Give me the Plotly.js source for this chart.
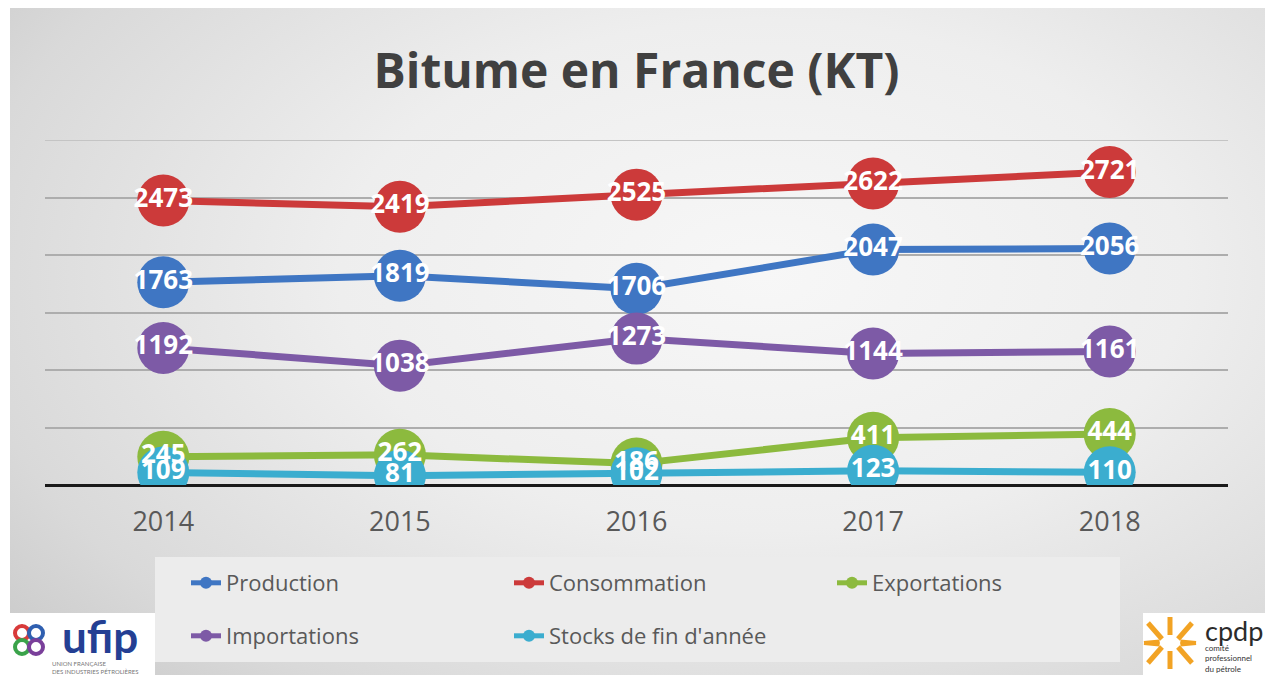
<!DOCTYPE html>
<html>
<head>
<meta charset="utf-8">
<script src="https://cdn.plot.ly/plotly-3.0.1.min.js"></script>
<style>
html,body{margin:0;padding:0;background:#ffffff;}
#bg{position:absolute;left:10px;top:8px;width:1255px;height:667px;
 background:radial-gradient(ellipse 75% 85% at 60% 40%, #f7f7f7 0%, #eeeeee 45%, #d9d9d9 85%, #cdcdcd 100%);}
#chart{position:absolute;left:0;top:0;width:1265px;height:675px;}
</style>
</head>
<body>
<div id="bg"></div>
<div id="chart"></div>
<script>
const years = ['2014','2015','2016','2017','2018'];
const production = [1763, 1819, 1706, 2047, 2056];
const consommation = [2473, 2419, 2525, 2622, 2721];
const exportations = [245, 262, 186, 411, 444];
const importations = [1192, 1038, 1273, 1144, 1161];
const stocks = [109, 81, 102, 123, 110];

const seriesNames = ['Production', 'Consommation', 'Exportations', 'Importations', "Stocks de fin d'année"];
const seriesValues = [production, consommation, exportations, importations, stocks];
const seriesColors = ['#3f76c3', '#cc3a3a', '#8cba3e', '#7d5aa6', '#3badcf'];
const seriesLegend = ['legend', 'legend', 'legend', 'legend2', 'legend2'];

// layout geometry (pixels)
const L = 45, R = 1228, T = 140, B = 485;
const px2x = p => (p - L) / (R - L);
const px2y = p => (B - p) / (B - T);
const FONT = '"Open Sans", "Noto Sans", sans-serif';

const traces = [];
seriesValues.forEach((vals, i) => {
  traces.push({
    type: 'scatter', mode: 'lines+markers', x: years, y: vals,
    name: seriesNames[i], legend: seriesLegend[i],
    line: {color: seriesColors[i], width: 7},
    marker: {color: seriesColors[i], size: 52},
    hoverinfo: 'x+y+name'
  });
});
seriesValues.forEach((vals, i) => {
  traces.push({
    type: 'scatter', mode: 'text', x: years, y: vals,
    text: vals.map(String), textposition: 'middle center',
    textfont: {family: FONT, size: 26, color: '#ffffff', weight: 'bold'},
    showlegend: false, hoverinfo: 'skip'
  });
});

const shapes = [
  // top gridline at 3000
  {type: 'line', xref: 'paper', yref: 'y', x0: 0, x1: 1, y0: 3000, y1: 3000, layer: 'below',
   line: {color: '#c4c4c4', width: 2}},
  // legend box
  {type: 'rect', xref: 'paper', yref: 'paper', layer: 'below',
   x0: px2x(155), x1: px2x(1120), y0: px2y(557), y1: px2y(662),
   fillcolor: '#ececec', line: {width: 0}},
  // ufip logo box
  {type: 'rect', xref: 'paper', yref: 'paper', layer: 'below',
   x0: px2x(0), x1: px2x(155), y0: px2y(613), y1: px2y(675),
   fillcolor: '#ffffff', line: {width: 0}},
  // cpdp logo box
  {type: 'rect', xref: 'paper', yref: 'paper', layer: 'below',
   x0: px2x(1143), x1: px2x(1265), y0: px2y(613), y1: px2y(675),
   fillcolor: '#ffffff', line: {width: 0}}
];
// ufip rings
const rings = [[22, 633, '#d83a3a'], [36, 633, '#2f5fb0'], [22, 647, '#3aa34a'], [36, 647, '#7a3f9a']];
rings.forEach(r => shapes.push({type: 'circle', xref: 'paper', yref: 'paper',
  x0: px2x(r[0] - 7), x1: px2x(r[0] + 7), y0: px2y(r[1] + 7), y1: px2y(r[1] - 7),
  line: {color: r[2], width: 4}, fillcolor: 'rgba(0,0,0,0)'}));
// cpdp star
const cx = 1170, cy = 643;
const arms = [[-22, -20, -8, -4], [0, -26, 0, -8], [22, -20, 8, -4], [-22, 20, -8, 4], [0, 26, 0, 8], [22, 20, 8, 4]];
arms.forEach(a => shapes.push({type: 'line', xref: 'paper', yref: 'paper',
  x0: px2x(cx + a[0]), y0: px2y(cy + a[1]), x1: px2x(cx + a[2]), y1: px2y(cy + a[3]),
  line: {color: '#f2a324', width: 5}}));
[[-26, -8], [26, -8], [-26, 8], [26, 8]].forEach(a => shapes.push({type: 'line', xref: 'paper', yref: 'paper',
  x0: px2x(cx + a[0]), y0: px2y(cy), x1: px2x(cx + a[0] * 0.4), y1: px2y(cy + a[1] * 0.2),
  line: {color: '#f2a324', width: 4}}));

const annotations = [
  {xref: 'paper', yref: 'paper', x: px2x(100), y: px2y(636), text: '<b>ufip</b>', showarrow: false,
   font: {family: 'Lato, sans-serif', size: 44, color: '#243f93'}, xanchor: 'center', yanchor: 'middle'},
  {xref: 'paper', yref: 'paper', x: px2x(50), y: px2y(667), text: 'UNION FRANÇAISE<br>DES INDUSTRIES PÉTROLIÈRES',
   showarrow: false, font: {family: 'Lato, sans-serif', size: 6, color: '#777'}, xanchor: 'left', yanchor: 'middle',
   align: 'left'},
  {xref: 'paper', yref: 'paper', x: px2x(1203), y: px2y(630), text: 'cpdp', showarrow: false,
   font: {family: 'Lato, sans-serif', size: 27, color: '#2b2b2b'}, xanchor: 'left', yanchor: 'middle'},
  {xref: 'paper', yref: 'paper', x: px2x(1203), y: px2y(658), text: 'comité<br>professionnel<br>du pétrole', showarrow: false,
   font: {family: 'Lato, sans-serif', size: 8, color: '#333'}, xanchor: 'left', yanchor: 'middle', align: 'left'}
];

const legendCommon = {orientation: 'h', xanchor: 'left', yanchor: 'middle',
  bgcolor: 'rgba(0,0,0,0)', font: {family: FONT, size: 22, color: '#595959'},
  entrywidth: 278, entrywidthmode: 'pixels', itemsizing: 'constant', traceorder: 'normal'};

const layout = {
  width: 1265, height: 675,
  margin: {l: L, r: 1265 - R, t: T, b: 675 - B},
  paper_bgcolor: 'rgba(0,0,0,0)', plot_bgcolor: 'rgba(0,0,0,0)',
  title: {text: '<b>Bitume en France (KT)</b>', x: 0.5, xref: 'paper', y: 1 - 71 / 675, yanchor: 'middle',
          font: {family: FONT, size: 48, color: '#404040'}},
  xaxis: {type: 'category', showgrid: false, zeroline: false, showline: false, ticks: '',
          tickfont: {family: FONT, size: 27, color: '#595959'}, ticklabelstandoff: 18,
          range: [-0.5, 4.5]},
  yaxis: {range: [0, 3000], dtick: 500, showticklabels: false, gridcolor: '#adadad', gridwidth: 2,
          zeroline: true, zerolinecolor: '#1a1a1a', zerolinewidth: 3, showline: false, fixedrange: true},
  showlegend: true,
  legend: Object.assign({}, legendCommon, {x: px2x(186), y: px2y(583)}),
  legend2: Object.assign({}, legendCommon, {x: px2x(186), y: px2y(636)}),
  shapes: shapes,
  annotations: annotations
};

Plotly.newPlot('chart', traces, layout, {displayModeBar: false, staticPlot: true});
</script>
</body>
</html>
